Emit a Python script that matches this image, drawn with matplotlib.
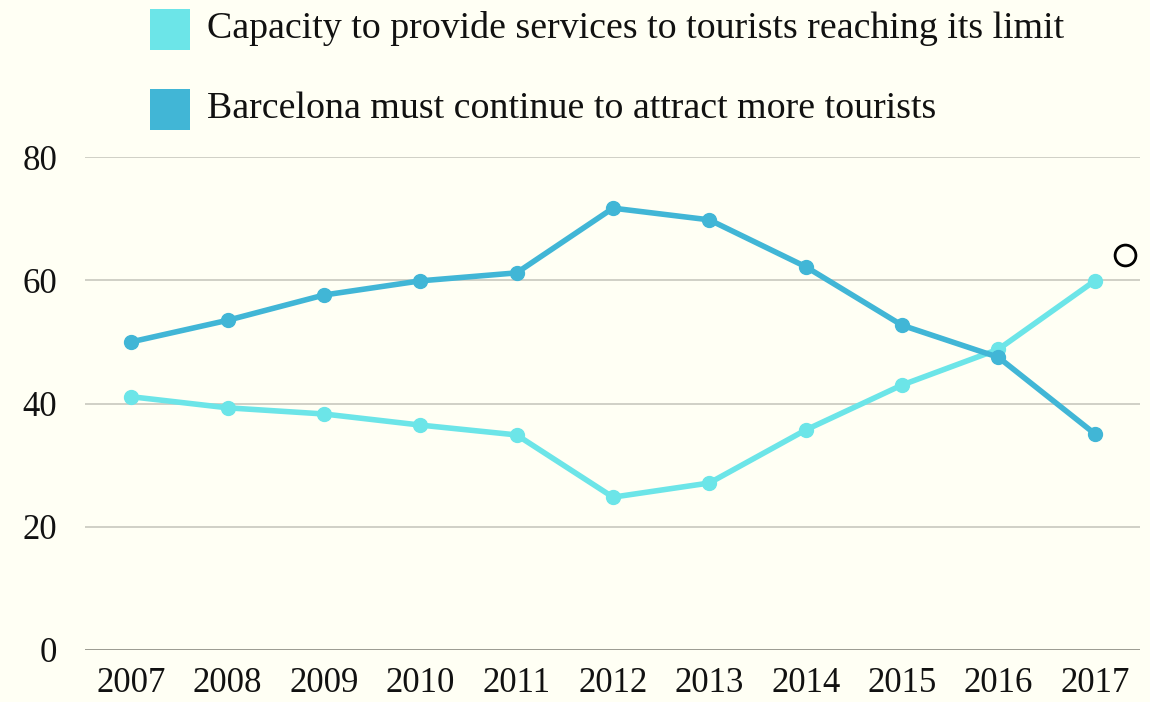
import matplotlib
matplotlib.use("Agg")
import matplotlib.pyplot as plt
from matplotlib.patches import Rectangle

years = [2007, 2008, 2009, 2010, 2011, 2012, 2013, 2014, 2015, 2016, 2017]
capacity_limit = [41.1, 39.3, 38.3, 36.5, 34.9, 24.8, 27.1, 35.7, 43.0, 48.8, 59.9]
attract_more = [50.0, 53.5, 57.6, 59.9, 61.2, 71.7, 69.8, 62.2, 52.7, 47.5, 35.1]
series_names = ["Capacity to provide services to tourists reaching its limit",
                "Barcelona must continue to attract more tourists"]
y_ticks = [0, 20, 40, 60, 80]

c_light = "#6ce5e8"
c_dark = "#41b6d6"
bg = "#fffff4"

plt.rcParams['font.family'] = ['Liberation Serif', 'DejaVu Serif']

fig = plt.figure(figsize=(11.5, 7.02), dpi=100, facecolor=bg)
ax = fig.add_axes([85/1150, 1-650/702, (1140-85)/1150, (650-157)/702])
ax.set_facecolor(bg)

for v in y_ticks:
    ax.axhline(v, color="#8a8a80" if v == 0 else "#c8c8be", lw=1.2, zorder=1)

ax.plot(years, capacity_limit, color=c_light, lw=4, marker="o", ms=10, zorder=3,
        solid_capstyle="round")
ax.plot(years, attract_more, color=c_dark, lw=4, marker="o", ms=10, zorder=4,
        solid_capstyle="round")

ax.set_xlim(2006.52, 2017.47)
ax.set_ylim(0, 80)
ax.set_xticks(years)
ax.set_xticklabels([str(y) for y in years])
ax.set_yticks(y_ticks)
ax.tick_params(axis="both", length=0, labelsize=25, colors="#111111")
ax.tick_params(axis="y", pad=20)
ax.tick_params(axis="x", pad=12)
for s in ax.spines.values():
    s.set_visible(False)

# legend
for i, (name, col) in enumerate(zip(series_names, [c_light, c_dark])):
    top = 9 + i * 80
    fig.patches.append(Rectangle((150/1150, 1-(top+41)/702), 40/1150, 41/702,
                                 transform=fig.transFigure, facecolor=col,
                                 edgecolor="none"))
    fig.text(207/1150, 1-(top+20)/702, name, fontsize=27.3, va="center",
             ha="left", color="#111111")

# hollow circle marker at top right
fig.add_artist(plt.Line2D([1125/1150], [1-255/702], marker="o", ms=15,
                          mfc="none", mec="black", mew=2,
                          transform=fig.transFigure))

fig.savefig("out.png", dpi=100, facecolor=bg)
